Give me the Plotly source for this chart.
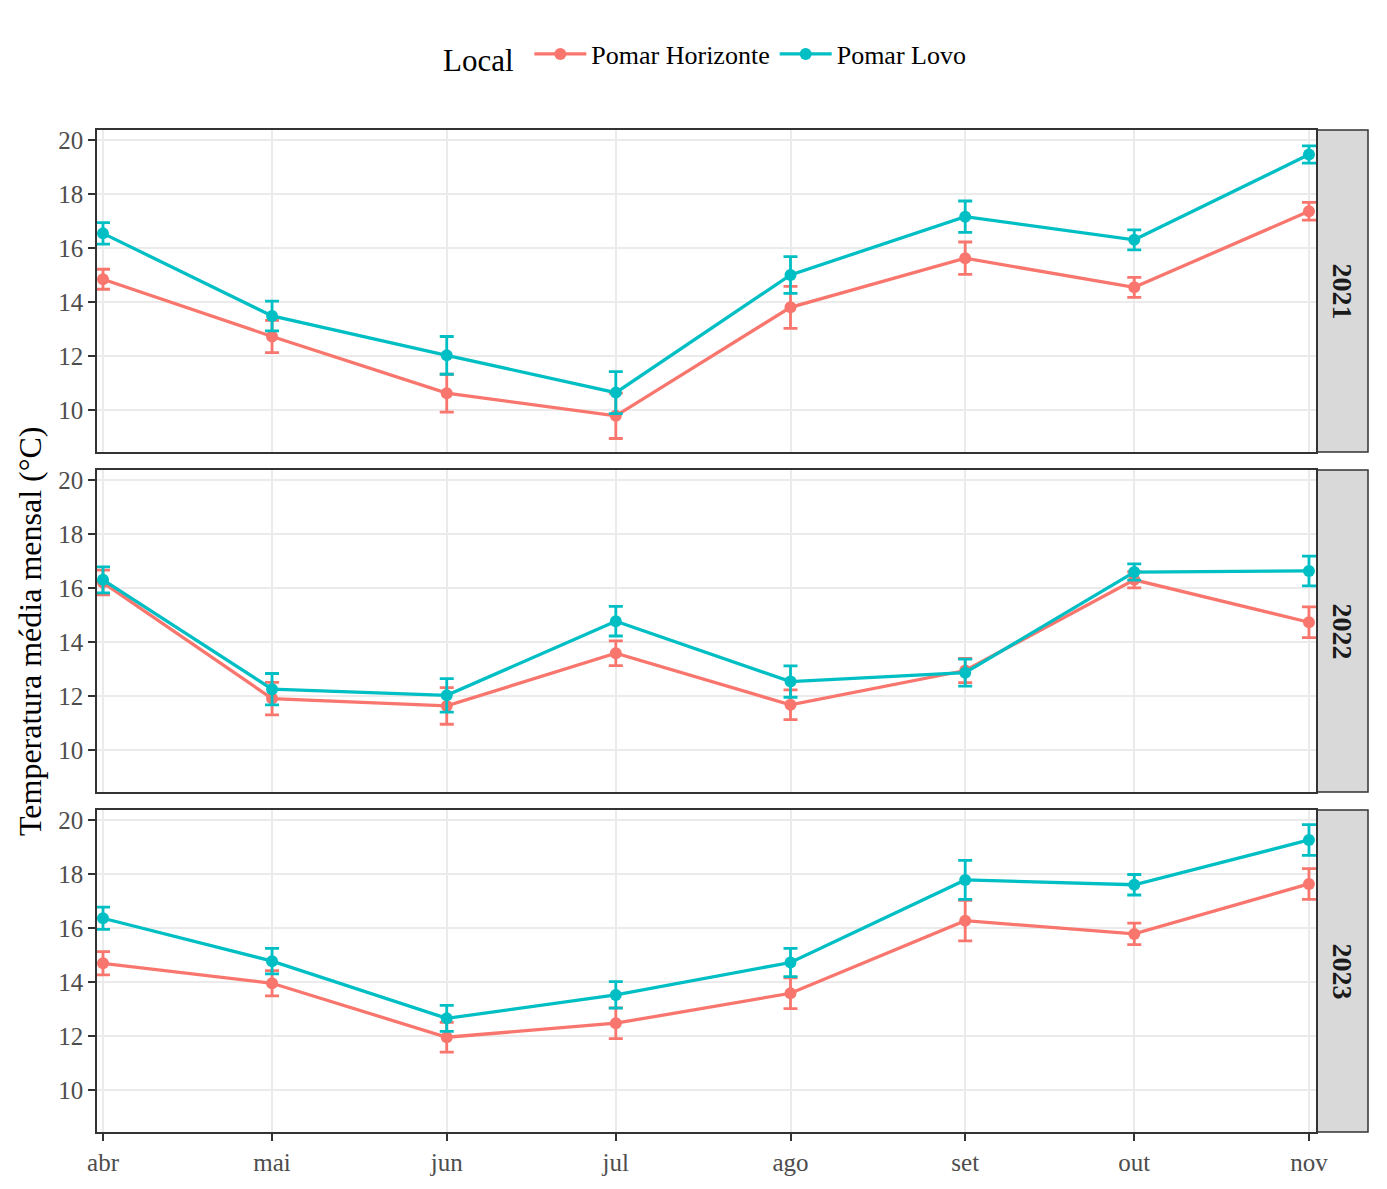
import plotly.graph_objects as go

# === Data ===
months = ["abr", "mai", "jun", "jul", "ago", "set", "out", "nov"]
month_dates = ["2000-04-01", "2000-05-01", "2000-06-01", "2000-07-01",
               "2000-08-01", "2000-09-01", "2000-10-01", "2000-11-01"]
years = ["2021", "2022", "2023"]

horizonte_mean = {
    "2021": [14.84, 12.72, 10.62, 9.78, 13.80, 15.62, 14.54, 17.36],
    "2022": [16.20, 11.90, 11.63, 13.58, 11.67, 12.94, 16.30, 14.73],
    "2023": [14.69, 13.95, 11.95, 12.47, 13.58, 16.27, 15.78, 17.63],
}
horizonte_err = {
    "2021": [0.37, 0.60, 0.70, 0.84, 0.78, 0.60, 0.37, 0.33],
    "2022": [0.46, 0.60, 0.68, 0.46, 0.55, 0.45, 0.30, 0.57],
    "2023": [0.43, 0.47, 0.55, 0.57, 0.57, 0.75, 0.40, 0.57],
}
lovo_mean = {
    "2021": [16.54, 13.48, 12.02, 10.64, 15.00, 17.16, 16.30, 19.46],
    "2022": [16.30, 12.25, 12.02, 14.77, 12.53, 12.86, 16.59, 16.63],
    "2023": [16.36, 14.77, 12.65, 13.52, 14.72, 17.78, 17.60, 19.26],
}
lovo_err = {
    "2021": [0.40, 0.55, 0.70, 0.78, 0.68, 0.58, 0.37, 0.32],
    "2022": [0.48, 0.58, 0.62, 0.55, 0.58, 0.50, 0.30, 0.55],
    "2023": [0.41, 0.47, 0.48, 0.49, 0.52, 0.72, 0.38, 0.57],
}

series = [
    ("Pomar Horizonte", "#F8766D", horizonte_mean, horizonte_err),
    ("Pomar Lovo", "#00BFC4", lovo_mean, lovo_err),
]

# === Layout geometry ===
# page body has an 8px margin, so the figure is 16px smaller than the window
# and all positions are given relative to the figure's own corner
OFF = 8
W, H = 1387 - 2 * OFF, 1189 - 2 * OFF
x_left, x_right = 97 - OFF, 1316 - OFF
strip_left, strip_right = 1317 - OFF, 1368 - OFF
panel_px = [(130 - OFF, 452 - OFF), (470 - OFF, 792 - OFF), (810 - OFF, 1132 - OFF)]
FONT = "Liberation Serif"

fig = go.Figure()

for i, yr in enumerate(years):
    ax = "" if i == 0 else str(i + 1)
    for name, color, means, errs in series:
        fig.add_trace(go.Scatter(
            x=month_dates, y=means[yr],
            mode="lines+markers",
            name=name,
            legendgroup=name,
            showlegend=(i == 0),
            line=dict(color=color, width=3.3),
            marker=dict(color=color, size=12),
            error_y=dict(type="data", array=errs[yr], color=color,
                         thickness=2.8, width=7),
            xaxis="x" + ax, yaxis="y" + ax,
        ))

layout = dict(
    width=W, height=H,
    margin=dict(l=0, r=0, t=0, b=0, autoexpand=False),
    paper_bgcolor="white",
    plot_bgcolor="white",
    font=dict(family=FONT, color="#000000"),
    legend=dict(
        orientation="h", x=(706 - OFF) / W, xanchor="center",
        y=1 - (56 - OFF) / H, yanchor="middle",
        title=dict(text="Local ", font=dict(size=31, family=FONT)),
        font=dict(size=26, family=FONT),
        itemwidth=52,
    ),
    shapes=[],
    annotations=[],
)

for i, yr in enumerate(years):
    top, bot = panel_px[i]
    ax = "" if i == 0 else str(i + 1)
    layout["xaxis" + ax] = dict(
        domain=[x_left / W, x_right / W],
        anchor="y" + ax,
        type="date",
        range=["2000-03-30 22:30", "2000-11-02 06:00"],
        tickvals=month_dates,
        ticktext=months,
        showticklabels=(i == 2),
        ticks="outside" if i == 2 else "",
        ticklen=7, tickwidth=2, tickcolor="#333333",
        tickfont=dict(size=25, color="#4D4D4D", family=FONT),
        showgrid=True, gridcolor="#EBEBEB", gridwidth=2,
        showline=True, mirror=True, linecolor="#333333", linewidth=1.5,
        zeroline=False, automargin=False,
        matches="x" if i > 0 else None,
    )
    layout["yaxis" + ax] = dict(
        domain=[1 - bot / H, 1 - top / H],
        anchor="x" + ax,
        range=[8.44, 20.37],
        tickvals=[10, 12, 14, 16, 18, 20],
        ticks="outside", ticklen=7, tickwidth=2, tickcolor="#333333",
        tickfont=dict(size=25, color="#4D4D4D", family=FONT),
        showgrid=True, gridcolor="#EBEBEB", gridwidth=2,
        showline=True, mirror=True, linecolor="#333333", linewidth=1.5,
        zeroline=False, automargin=False,
    )
    # facet strip on the right
    layout["shapes"].append(dict(
        type="rect", xref="paper", yref="paper",
        x0=strip_left / W, x1=strip_right / W,
        y0=1 - bot / H, y1=1 - top / H,
        fillcolor="#D9D9D9", line=dict(color="#333333", width=1.5),
        layer="below",
    ))
    layout["annotations"].append(dict(
        text="<b>" + yr + "</b>", xref="paper", yref="paper",
        x=(strip_left + strip_right) / 2 / W,
        y=1 - (top + bot) / 2 / H,
        xanchor="center", yanchor="middle",
        showarrow=False, textangle=90,
        font=dict(size=28, color="#1A1A1A", family=FONT),
    ))

layout["annotations"].append(dict(
    text="Temperatura média mensal (°C)", xref="paper", yref="paper",
    x=(30 - OFF) / W, y=1 - (631 - OFF) / H,
    xanchor="center", yanchor="middle",
    showarrow=False, textangle=-90,
    font=dict(size=32, color="#000000", family=FONT),
))

fig.update_layout(**layout)

fig.write_html("out.html")
